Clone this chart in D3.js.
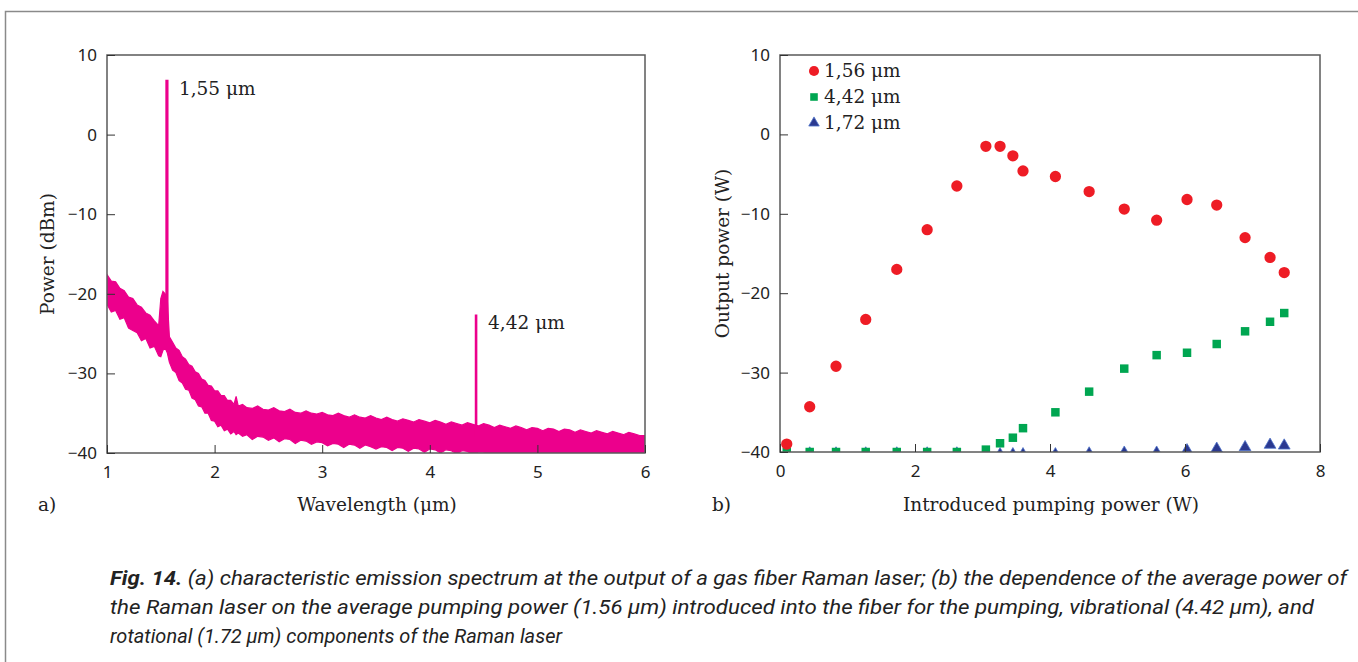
<!DOCTYPE html>
<html><head><meta charset="utf-8">
<script src="https://cdn.jsdelivr.net/npm/d3@7/dist/d3.min.js"></script>
<style>
body{margin:0;background:#fff;}
svg{display:block;}
.tick text{font-family:"Noto Sans",sans-serif;font-size:17px;fill:#222;}
.ser{font-family:"DejaVu Serif",serif;font-size:18.5px;fill:#222;}
</style></head><body>
<svg id="c" width="1358" height="662"></svg>
<script>
// ---------- Data: panel (a) spectrum envelope (upper / lower edge of the noisy trace) ----------
const wavelength = [1.00,1.04,1.08,1.12,1.16,1.20,1.24,1.28,1.32,1.36,1.40,1.44,1.48,1.50,1.52,1.54,1.56,1.58,1.61,1.64,1.67,1.70,1.73,1.76,1.79,1.82,1.85,1.88,1.91,1.94,1.97,2.00,2.03,2.06,2.09,2.12,2.15,2.18,2.20,2.22,2.26,2.30,2.35,2.40,2.45,2.50,2.55,2.60,2.65,2.70,2.75,2.80,2.85,2.90,2.95,3.00,3.05,3.10,3.15,3.20,3.25,3.30,3.35,3.40,3.45,3.50,3.55,3.60,3.65,3.70,3.75,3.80,3.85,3.90,3.95,4.00,4.05,4.10,4.15,4.20,4.25,4.30,4.35,4.40,4.45,4.50,4.55,4.60,4.65,4.70,4.75,4.80,4.85,4.90,4.95,5.00,5.05,5.10,5.15,5.20,5.25,5.30,5.35,5.40,5.45,5.50,5.55,5.60,5.65,5.70,5.75,5.80,5.85,5.90,5.95,6.00];
const upperPower = [-17.6,-18.4,-18.5,-19.3,-19.6,-20.4,-20.6,-21.4,-21.7,-22.4,-22.7,-23.4,-24.0,-20.6,-19.7,-20.0,-20.6,-25.4,-26.1,-26.8,-27.1,-27.9,-28.2,-28.9,-29.1,-29.8,-30.0,-30.7,-30.9,-31.5,-31.6,-32.2,-32.2,-32.8,-32.8,-33.4,-33.4,-33.9,-32.9,
  -34.1,-33.9,-34.3,-34.4,-34.1,-34.5,-34.6,-34.3,-34.7,-34.8,-34.5,-34.9,-35.0,-34.7,-35.0,-35.1,-34.9,-35.2,-35.3,-35.0,-35.3,-35.5,-35.2,-35.5,-35.6,-35.3,-35.6,-35.8,-35.5,-35.8,-36.0,-35.7,-35.9,-36.1,-35.8,-36.0,-36.2,-35.9,-36.1,-36.4,-36.1,-36.3,-36.5,-36.2,-36.4,-36.6,-36.3,-36.5,-36.8,-36.5,-36.7,-36.9,-36.6,-36.8,-37.1,-36.8,-36.9,-37.2,-36.9,-37.0,-37.3,-37.0,-37.1,-37.4,-37.1,-37.3,-37.5,-37.2,-37.4,-37.6,-37.3,-37.5,-37.7,-37.4,-37.6,-37.8,-37.8];
const lowerPower = [-21.3,-22.3,-22.1,-23.2,-23.0,-24.3,-24.6,-24.9,-25.9,-25.6,-26.8,-26.6,-27.8,-27.9,-27.1,-26.8,-27.4,-28.6,-29.6,-29.9,-30.9,-31.2,-32.0,-32.1,-33.1,-33.3,-34.1,-34.2,-35.0,-35.0,-35.9,-36.0,-36.7,-36.5,-37.2,-37.0,-37.6,-37.3,-37.7,
  -37.5,-37.9,-37.7,-38.3,-37.9,-38.0,-38.4,-38.1,-38.6,-38.2,-38.3,-38.8,-38.4,-38.5,-38.9,-38.6,-38.7,-39.1,-38.8,-38.9,-39.3,-38.9,-39.0,-39.4,-39.0,-39.2,-39.5,-39.2,-39.3,-39.7,-39.3,-39.4,-39.8,-39.4,-39.5,-39.9,-39.5,-39.6,-40.0,-39.6,-39.7,-40.1,-39.7,-39.8,-40.2,-39.9,-39.9,-40.3,-40.0,-40.0,-40.4,-40.1,-40.1,-40.5,-40.2,-40.2,-40.5,-40.3,-40.3,-40.6,-40.4,-40.4,-40.6,-40.5,-40.5,-40.6,-40.5,-40.6,-40.6,-40.6,-40.6,-40.6,-40.6,-40.6,-40.6,-40.6,-40.6];
const peakWavelength = [1.557, 4.43];
const peakTop = [6.9, -22.6];
const peakLabels = ["1,55 μm", "4,42 μm"];
const aXTicks = [1,2,3,4,5,6];
const aYTicks = [10,0,-10,-20,-30,-40];

// ---------- Data: panel (b) ----------
const pumpPower = [0.10,0.44,0.83,1.27,1.73,2.18,2.62,3.05,3.26,3.45,3.60,4.08,4.58,5.10,5.58,6.03,6.47,6.89,7.26,7.47];
const out156 = [-39.0,-34.3,-29.2,-23.3,-17.0,-12.0,-6.5,-1.5,-1.5,-2.7,-4.6,-5.3,-7.2,-9.4,-10.8,-8.2,-8.9,-13.0,-15.5,-17.4];
const out442 = [-40.0,-40.0,-40.0,-40.0,-40.0,-40.0,-40.0,-39.7,-38.9,-38.2,-37.0,-35.0,-32.4,-29.5,-27.8,-27.5,-26.4,-24.8,-23.6,-22.5];
const out172 = [-40.2,-40.2,-40.2,-40.2,-40.2,-40.2,-40.2,-40.3,-40.3,-40.3,-40.3,-40.3,-40.2,-40.1,-40.1,-39.8,-39.6,-39.4,-39.1,-39.2];
const seriesNames = ["1,56 μm","4,42 μm","1,72 μm"];
const bXTicks = [0,2,4,6,8];
const bYTicks = [10,0,-10,-20,-30,-40];

const captionLines = [
  ["Fig. 14.", " (a) characteristic emission spectrum at the output of a gas fiber Raman laser; (b) the dependence of the average power of"],
  ["", "the Raman laser on the average pumping power (1.56 μm) introduced into the fiber for the pumping, vibrational (4.42 μm), and"],
  ["", "rotational (1.72 μm) components of the Raman laser"]
];

// ---------- Drawing ----------
const svg = d3.select("#c");
const MAG = "#ec008c";
const AX = "#5a5a5a";

// outer frame (left & top)
svg.append("path").attr("d","M5.5,662 L5.5,11.5 L1358,11.5").attr("fill","none").attr("stroke","#8a8a8a").attr("stroke-width",1.5);

function frame(g, x, y, w, h){
  g.append("rect").attr("x",x).attr("y",y).attr("width",w).attr("height",h)
   .attr("fill","none").attr("stroke",AX).attr("stroke-width",1.5);
}
function styleAxis(sel){
  sel.select(".domain").remove();
  sel.selectAll(".tick line").attr("stroke","#333").attr("stroke-width",1);
}
const minusFmt = d => d < 0 ? "−" + Math.abs(d) : String(d);

// ---- Panel a ----
const A = {l:107, r:645, t:55, b:453};
const xa = d3.scaleLinear().domain([1,6]).range([A.l,A.r]);
const ya = d3.scaleLinear().domain([-40,10]).range([A.b,A.t]);
const gA = svg.append("g");
svg.append("clipPath").attr("id","clipA").append("rect").attr("x",A.l).attr("y",A.t).attr("width",A.r-A.l).attr("height",A.b-A.t);

const spec = wavelength.map((w,i)=>({w, u:upperPower[i], lo:lowerPower[i]}));
gA.append("path").datum(spec).attr("clip-path","url(#clipA)")
  .attr("d", d3.area().x(d=>xa(d.w)).y0(d=>ya(d.lo)).y1(d=>ya(d.u)))
  .attr("fill",MAG).attr("stroke",MAG).attr("stroke-width",1.2).attr("stroke-linejoin","miter");
peakWavelength.forEach((w,i)=>{
  gA.append("line").attr("x1",xa(w)).attr("x2",xa(w)).attr("y1",ya(peakTop[i])).attr("y2",ya(i===0?-26:-38))
    .attr("stroke",MAG).attr("stroke-width",i===0?3.2:2.6);
  gA.append("text").attr("class","ser").attr("x",xa(w)+12).attr("y",ya(peakTop[i]) + 15)
    .text(peakLabels[i]);
});
frame(gA, A.l, A.t, A.r-A.l, A.b-A.t);
gA.append("g").attr("transform",`translate(0,${A.b})`)
  .call(d3.axisBottom(xa).tickValues(aXTicks).tickSize(-8).tickPadding(13).tickFormat(d3.format("d")))
  .call(styleAxis);
gA.append("g").attr("transform",`translate(${A.l},0)`)
  .call(d3.axisLeft(ya).tickValues(aYTicks).tickSize(-8).tickPadding(10).tickFormat(minusFmt))
  .call(styleAxis);
gA.append("text").attr("class","ser").attr("text-anchor","middle").attr("x",377).attr("y",511).text("Wavelength (μm)");
gA.append("text").attr("class","ser").attr("text-anchor","middle")
  .attr("transform",`translate(54,${(A.t+A.b)/2}) rotate(-90)`).text("Power (dBm)");
gA.append("text").attr("class","ser").attr("x",38).attr("y",511).text("a)");

// ---- Panel b ----
const B = {l:780, r:1320, t:55, b:452};
const xb = d3.scaleLinear().domain([0,8]).range([B.l,B.r]);
const yb = d3.scaleLinear().domain([-40,10]).range([B.b,B.t]);
const gB = svg.append("g");
svg.append("clipPath").attr("id","clipB").append("rect").attr("x",B.l).attr("y",B.t).attr("width",B.r-B.l).attr("height",B.b-B.t);
const colors = ["#ee1c25","#00a651","#2b3990"];
const syms = [d3.symbolCircle, d3.symbolSquare, d3.symbolTriangle];
const sizes = [100, 72, 60];
const allSeries = [out156, out442, out172];
const gPts = gB.append("g").attr("clip-path","url(#clipB)");
[2,1,0].forEach(k=>{
  gPts.selectAll(null).data(pumpPower.map((p,i)=>({p, v:allSeries[k][i]}))).join("path")
    .attr("transform",d=>`translate(${xb(d.p)},${yb(d.v)})`)
    .attr("d", d3.symbol().type(syms[k]).size(sizes[k]))
    .attr("fill",colors[k])
    .attr("stroke", k===2 ? "#4f74c9" : "none").attr("stroke-width",0.8);
});
frame(gB, B.l, B.t, B.r-B.l, B.b-B.t);
gB.append("g").attr("transform",`translate(0,${B.b})`)
  .call(d3.axisBottom(xb).tickValues(bXTicks).tickSize(-8).tickPadding(13).tickFormat(d3.format("d")))
  .call(styleAxis);
gB.append("g").attr("transform",`translate(${B.l},0)`)
  .call(d3.axisLeft(yb).tickValues(bYTicks).tickSize(-8).tickPadding(10).tickFormat(minusFmt))
  .call(styleAxis);
gB.append("text").attr("class","ser").attr("text-anchor","middle").attr("x",1051).attr("y",511).text("Introduced pumping power (W)");
gB.append("text").attr("class","ser").attr("text-anchor","middle")
  .attr("transform",`translate(729,${(B.t+B.b)/2}) rotate(-90)`).text("Output power (W)");
gB.append("text").attr("class","ser").attr("x",712).attr("y",511).text("b)");

// legend
seriesNames.forEach((n,k)=>{
  const y = 71 + k*26;
  gB.append("path").attr("transform",`translate(814,${y})`)
    .attr("d", d3.symbol().type(syms[k]).size(sizes[k]*0.8)).attr("fill",colors[k])
    .attr("stroke", k===2 ? "#4f74c9" : "none").attr("stroke-width",0.8);
  gB.append("text").attr("class","ser").attr("x",824).attr("y",y+6).text(n);
});

// caption
const capLen = [1237, 1204, 452];
captionLines.forEach((ln,i)=>{
  const t = svg.append("text").attr("x",110).attr("y",585 + i*29)
    .attr("font-family","'Liberation Sans Narrow','Roboto',sans-serif").attr("font-style","italic")
    .attr("font-size",20).attr("fill","#222")
    .attr("textLength",capLen[i]).attr("lengthAdjust","spacingAndGlyphs");
  if(ln[0]) t.append("tspan").attr("font-weight","bold").text(ln[0]);
  t.append("tspan").text(ln[1]);
});
</script>
</body></html>
